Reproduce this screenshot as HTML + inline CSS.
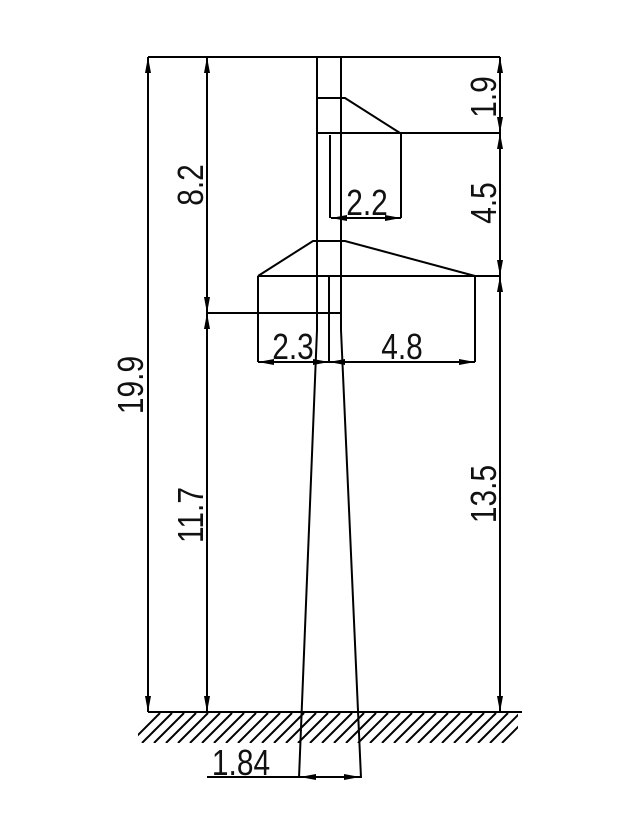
<!DOCTYPE html>
<html><head><meta charset="utf-8"><style>
html,body{margin:0;padding:0;background:#fff;}
svg{display:block;}
text{font-family:"Liberation Sans",sans-serif;font-size:36px;fill:#111;}
</style></head><body>
<svg width="640" height="840" viewBox="0 0 640 840" xmlns="http://www.w3.org/2000/svg">
<defs>
<marker id="a" viewBox="0 0 10 6" refX="10" refY="3" markerWidth="10" markerHeight="6" markerUnits="userSpaceOnUse" orient="auto-start-reverse"><path d="M0,0 L10,3 L0,6 z" fill="#000"/></marker>
<marker id="b" viewBox="0 0 16 6" refX="16" refY="3" markerWidth="16" markerHeight="6" markerUnits="userSpaceOnUse" orient="auto-start-reverse"><path d="M0,0 L16,3 L0,6 z" fill="#000"/></marker>
<clipPath id="c"><rect x="138" y="713" width="380" height="30"/></clipPath>
</defs>
<g stroke="#000" stroke-width="2" fill="none">
<!-- pole -->
<polyline points="317,57 317,330 299,778"/>
<polyline points="341,57 341,330 361,778"/>
<!-- top extension -->
<line x1="148" y1="57" x2="500" y2="57"/>
<!-- top arm -->
<polyline points="317,98 345,98 400,133"/>
<line x1="317" y1="133" x2="500" y2="133"/>
<polyline points="330,135 330,218"/>
<line x1="401" y1="133" x2="401" y2="218"/>
<line x1="331" y1="218" x2="401" y2="218" marker-start="url(#b)" marker-end="url(#b)"/>
<!-- lower arm -->
<polyline points="258,276 313,241 345,241 475,276"/>
<line x1="258" y1="276" x2="500" y2="276"/>
<line x1="258" y1="276" x2="258" y2="362"/>
<line x1="475" y1="276" x2="475" y2="362"/>
<line x1="329" y1="277" x2="329" y2="362"/>
<line x1="207" y1="313" x2="341" y2="313"/>
<line x1="258" y1="362" x2="329" y2="362" marker-start="url(#b)" marker-end="url(#b)"/>
<line x1="329" y1="362" x2="475" y2="362" marker-start="url(#b)" marker-end="url(#b)"/>
<!-- left dims -->
<line x1="148" y1="57" x2="148" y2="712" marker-start="url(#b)" marker-end="url(#b)"/>
<line x1="207" y1="57" x2="207" y2="313" marker-start="url(#b)" marker-end="url(#b)"/>
<line x1="207" y1="313" x2="207" y2="712" marker-start="url(#b)" marker-end="url(#b)"/>
<!-- right dims -->
<line x1="500" y1="57" x2="500" y2="133" marker-start="url(#b)" marker-end="url(#b)"/>
<line x1="500" y1="133" x2="500" y2="276" marker-start="url(#b)" marker-end="url(#b)"/>
<line x1="500" y1="276" x2="500" y2="712" marker-start="url(#b)" marker-end="url(#b)"/>
<!-- ground -->
<line x1="148" y1="712" x2="522" y2="712"/>
<g clip-path="url(#c)">
<path d="M130,743 L160,713 M142,743 L172,713 M154,743 L184,713 M166,743 L196,713 M178,743 L208,713 M190,743 L220,713 M202,743 L232,713 M214,743 L244,713 M226,743 L256,713 M238,743 L268,713 M250,743 L280,713 M262,743 L292,713 M274,743 L304,713 M286,743 L316,713 M298,743 L328,713 M310,743 L340,713 M322,743 L352,713 M334,743 L364,713 M346,743 L376,713 M358,743 L388,713 M370,743 L400,713 M382,743 L412,713 M394,743 L424,713 M406,743 L436,713 M418,743 L448,713 M430,743 L460,713 M442,743 L472,713 M454,743 L484,713 M466,743 L496,713 M478,743 L508,713 M490,743 L520,713 M502,743 L532,713"/>
</g>
<!-- base dim -->
<line x1="207" y1="777" x2="299" y2="777"/>
<line x1="300" y1="777" x2="360" y2="777" marker-start="url(#b)" marker-end="url(#b)"/>
</g>
<g>
<text transform="translate(143,385) rotate(-90) scale(0.83,1)" text-anchor="middle">19.9</text>
<text transform="translate(203,185) rotate(-90) scale(0.83,1)" text-anchor="middle">8.2</text>
<text transform="translate(203,515) rotate(-90) scale(0.83,1)" text-anchor="middle">11.7</text>
<text transform="translate(496,97) rotate(-90) scale(0.83,1)" text-anchor="middle">1.9</text>
<text transform="translate(496,203) rotate(-90) scale(0.83,1)" text-anchor="middle">4.5</text>
<text transform="translate(496,494) rotate(-90) scale(0.83,1)" text-anchor="middle">13.5</text>
<text transform="translate(367,215) scale(0.83,1)" text-anchor="middle">2.2</text>
<text transform="translate(293,359) scale(0.83,1)" text-anchor="middle">2.3</text>
<text transform="translate(402,359) scale(0.83,1)" text-anchor="middle">4.8</text>
<text transform="translate(241,775) scale(0.83,1)" text-anchor="middle">1.84</text>
</g>
</svg>
</body></html>
